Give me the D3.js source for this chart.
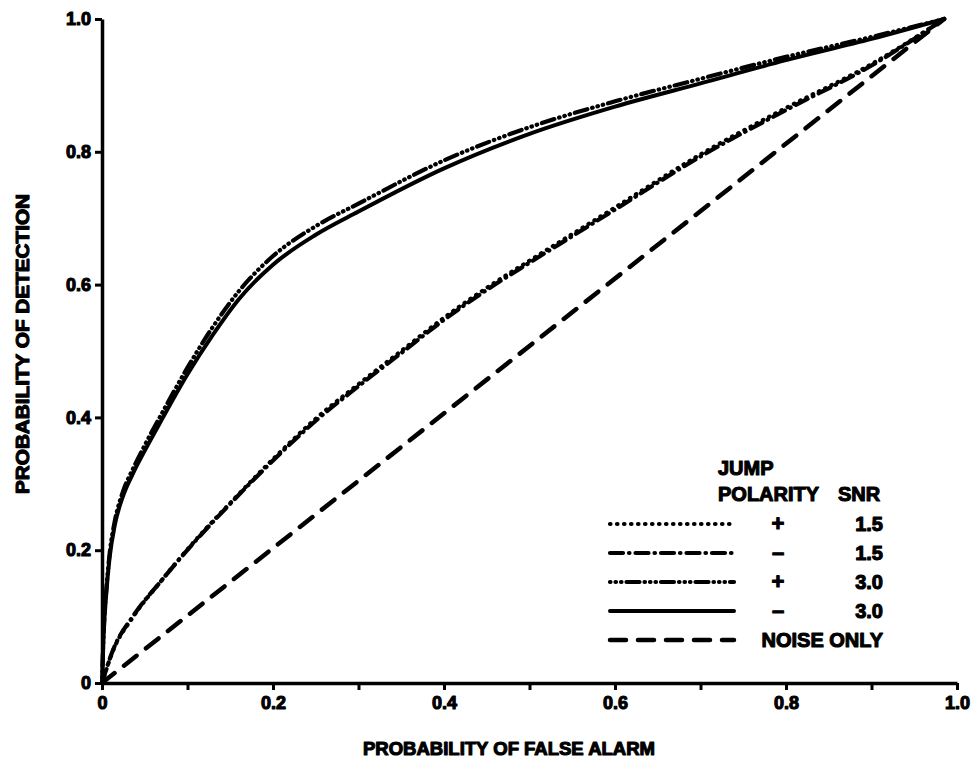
<!DOCTYPE html>
<html>
<head>
<meta charset="utf-8">
<script src="https://cdn.jsdelivr.net/npm/d3@7"></script>
<style>
  body { margin: 0; background: #fff; }
  text { font-family: "Liberation Sans", Arial, sans-serif; font-weight: bold; fill: #000; stroke: #000; stroke-width: 1.1px; stroke-linejoin: round; }
</style>
</head>
<body>
<svg id="chart" width="977" height="765"></svg>
<script>
// ROC curves: [false alarm, detection]
var snr30minus = [[0,0],[0.002,0.075],[0.005,0.135],[0.009,0.19],[0.015,0.238],[0.025,0.283],[0.036,0.315],[0.05,0.35],[0.07,0.397],[0.1,0.465],[0.13,0.525],[0.16,0.578],[0.2,0.63],[0.25,0.675],[0.3,0.71],[0.4,0.775],[0.5,0.827],[0.6,0.868],[0.7,0.903],[0.8,0.938],[0.9,0.97],[0.985,1.0]];
var snr30plus  = [[0,0],[0.002,0.08],[0.005,0.14],[0.009,0.196],[0.015,0.244],[0.025,0.29],[0.036,0.322],[0.05,0.358],[0.07,0.406],[0.1,0.475],[0.13,0.537],[0.16,0.59],[0.2,0.643],[0.25,0.688],[0.3,0.722],[0.4,0.787],[0.5,0.837],[0.6,0.876],[0.7,0.91],[0.8,0.943],[0.9,0.973],[0.985,1.0]];
var snr15minus = [[0,0],[0.013,0.05],[0.036,0.10],[0.07,0.155],[0.11,0.215],[0.15,0.27],[0.2,0.335],[0.25,0.395],[0.3,0.447],[0.35,0.497],[0.4,0.547],[0.45,0.592],[0.5,0.633],[0.55,0.673],[0.6,0.713],[0.7,0.793],[0.8,0.863],[0.9,0.93],[0.985,1.0]];
var snr15plus  = [[0,0],[0.013,0.049],[0.036,0.099],[0.07,0.155],[0.11,0.216],[0.15,0.271],[0.2,0.337],[0.25,0.398],[0.3,0.45],[0.35,0.5],[0.4,0.55],[0.45,0.595],[0.5,0.636],[0.55,0.676],[0.6,0.716],[0.7,0.796],[0.8,0.866],[0.9,0.932],[0.985,1.0]];
var noiseOnly  = [[0,0],[0.985,1.0]];

var majorTicks = [0, 0.2, 0.4, 0.6, 0.8, 1.0];
var minorTicks = [0.1, 0.3, 0.5, 0.7, 0.9];
var tickLabels = ["0", "0.2", "0.4", "0.6", "0.8", "1.0"];

var legendPolarity = ["+", "\u2013", "+", "\u2013", ""];
var legendSnr = ["1.5", "1.5", "3.0", "3.0", "NOISE ONLY"];

var svg = d3.select("#chart");

var x = d3.scaleLinear().domain([0, 1]).range([102, 957]);
var y = d3.scaleLinear().domain([0, 1]).range([683, 19]);

// axes
var xAxis = svg.append("g").attr("transform", "translate(0," + y(0) + ")")
  .call(d3.axisBottom(x).tickValues(majorTicks).tickSize(7).tickSizeOuter(0)
    .tickFormat(function(d, i) { return tickLabels[i]; }));
xAxis.selectAll(".tick text").attr("y", 13).attr("dy", "0.71em").style("font-size", "18px");

svg.append("g").attr("transform", "translate(0," + y(0) + ")")
  .call(d3.axisBottom(x).tickValues(minorTicks).tickSize(7).tickSizeOuter(0).tickFormat(""))
  .select(".domain").remove();

var yAxis = svg.append("g").attr("transform", "translate(" + x(0) + ",0)")
  .call(d3.axisLeft(y).tickValues(majorTicks).tickSize(7).tickSizeOuter(0)
    .tickFormat(function(d, i) { return tickLabels[i]; }));
yAxis.selectAll(".tick text").attr("x", -11).style("font-size", "18px");

svg.selectAll(".domain").attr("stroke", "#000").attr("stroke-width", 3.5);
svg.selectAll(".tick line").attr("stroke", "#000").attr("stroke-width", 3);

svg.append("text").attr("x", 509).attr("y", 755).attr("text-anchor", "middle")
  .style("font-size", "18px").attr("textLength", 292).attr("lengthAdjust", "spacingAndGlyphs")
  .text("PROBABILITY OF FALSE ALARM");
svg.append("text").attr("transform", "translate(29,344) rotate(-90)").attr("text-anchor", "middle")
  .style("font-size", "18px").attr("textLength", 300).attr("lengthAdjust", "spacingAndGlyphs")
  .text("PROBABILITY OF DETECTION");

// curves
var line = d3.line().x(function(d) { return x(d[0]); }).y(function(d) { return y(d[1]); })
  .curve(d3.curveMonotoneX);

var styles = [
  { data: snr15plus,  dash: "0.5,6.5",                 w: 4.2 },
  { data: snr15minus, dash: "13,6,0.5,6",              w: 4.2 },
  { data: snr30plus,  dash: "0.5,5,0.5,5,0.5,5,13,5",  w: 4.2 },
  { data: snr30minus, dash: null,                      w: 4 },
  { data: noiseOnly,  dash: "16,12",                   w: 4.5 }
];

svg.selectAll("path.curve").data(styles).enter().append("path")
  .attr("class", "curve")
  .attr("d", function(s) { return line(s.data); })
  .attr("fill", "none").attr("stroke", "#000")
  .attr("stroke-width", function(s) { return s.w; })
  .attr("stroke-linecap", "round")
  .attr("stroke-dasharray", function(s) { return s.dash; });

// legend
svg.append("text").attr("x", 718).attr("y", 475).style("font-size", "20px").text("JUMP");
svg.append("text").attr("x", 718).attr("y", 501).style("font-size", "20px").text("POLARITY");
svg.append("text").attr("x", 838).attr("y", 501).style("font-size", "20px").text("SNR");

var rowY = d3.scalePoint().domain(d3.range(5)).range([524, 640]);
var legend = svg.selectAll("g.leg").data(styles).enter().append("g").attr("class", "leg")
  .attr("transform", function(s, i) { return "translate(0," + rowY(i) + ")"; });
legend.append("line").attr("x1", 610).attr("x2", 734)
  .attr("stroke", "#000").attr("stroke-width", function(s) { return s.w; })
  .attr("stroke-linecap", "round")
  .attr("stroke-dasharray", function(s) { return s.dash; });
legend.append("text").attr("x", 778).attr("y", 7).attr("text-anchor", "middle")
  .style("font-size", "22px").text(function(s, i) { return legendPolarity[i]; });
legend.append("text").attr("x", 883).attr("y", 7)
  .attr("text-anchor", "end").style("font-size", "20px")
  .text(function(s, i) { return legendSnr[i]; });
</script>
</body>
</html>
